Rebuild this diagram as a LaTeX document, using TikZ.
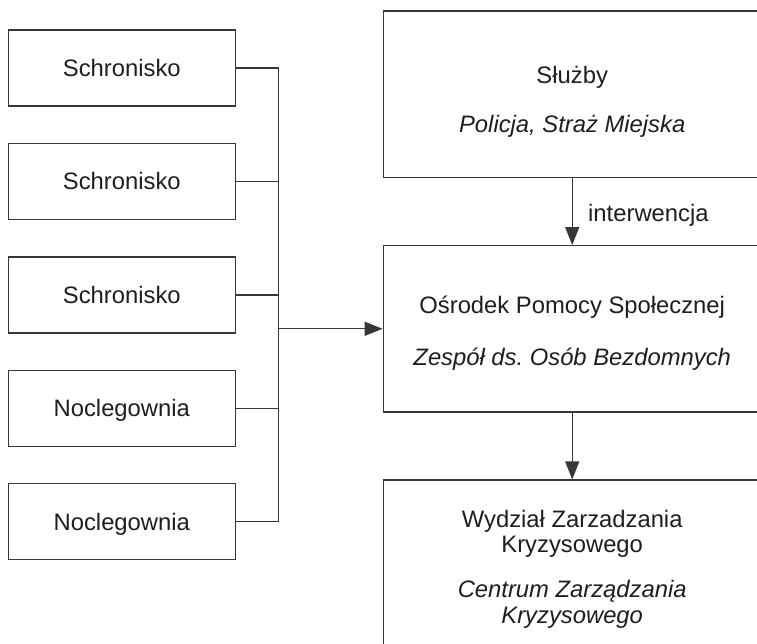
\documentclass[tikz,border=0pt]{standalone}
\usepackage{fontspec}
\setmainfont{Liberation Sans}
\usetikzlibrary{arrows.meta}
\definecolor{ln}{RGB}{55,55,55}
\definecolor{tx}{RGB}{30,30,30}
\frenchspacing
\begin{document}
\begin{tikzpicture}[x=1pt,y=-1pt,
 box/.style={draw=ln, line width=1.1pt, rectangle, inner sep=0pt, fill=white},
 leftbox/.style={box, minimum width=227pt, minimum height=76pt, text height=17pt, text depth=0pt, font=\fontsize{23.8}{25}\selectfont, text=tx},
 rightbox/.style={box, minimum width=378pt},
 lbl/.style={anchor=base, inner sep=0pt, font=\fontsize{23.8}{25}\selectfont, text=tx},
 conn/.style={draw=ln, line width=1.1pt},
 arr/.style={conn, -{Triangle[length=18pt,width=14pt]}}]
\useasboundingbox (0,0) rectangle (757,644);
\clip (0,0) rectangle (757,644);

% left boxes
\node[leftbox] (s1) at (121.8,68) {Schronisko};
\node[leftbox] (s2) at (121.8,181.3) {Schronisko};
\node[leftbox] (s3) at (121.8,295) {Schronisko};
\node[leftbox] (n1) at (121.8,408.3) {Noclegownia};
\node[leftbox] (n2) at (121.8,521.5) {Noclegownia};

% right boxes
\node[rightbox, minimum height=166.3pt] (sl) at (572.2,94.2) {};
\node[rightbox, minimum height=166.3pt] (os) at (572.2,328.8) {};
\node[rightbox, minimum height=200pt] (wz) at (572.2,580) {};

% texts
\node[lbl] (slA) at (572.2,83.5) {Służby};
\node[lbl] (slB) at (572.2,132.5) {\itshape Policja, Straż Miejska};
\node[lbl] (osA) at (572.2,313.5) {Ośrodek Pomocy Społecznej};
\node[lbl] (osB) at (572.2,365.5) {\itshape Zespół ds.\ Osób Bezdomnych};
\node[lbl] (wzA) at (572.2,527.3) {Wydział Zarzadzania};
\node[lbl] (wzB) at (572.2,552) {Kryzysowego};
\node[lbl] (wzC) at (572.2,597.5) {\itshape Centrum Zarządzania};
\node[lbl] (wzD) at (572.2,623.5) {\itshape Kryzysowego};

% connectors
\coordinate (jn) at (278.3,328.8);
\draw[conn] (s1.east) -| (jn);
\draw[conn] (s2.east) -| (jn);
\draw[conn] (s3.east) -| (jn);
\draw[conn] (n1.east) -| (jn);
\draw[conn] (n2.east) -| (jn);
\draw[arr] (jn) -- (os.west);

\draw[arr] (sl.south) -- (os.north);
\node[lbl, anchor=base west] (iw) at (588,221.5) {interwencja};
\draw[arr] (os.south) -- (wz.north);
\end{tikzpicture}
\end{document}
